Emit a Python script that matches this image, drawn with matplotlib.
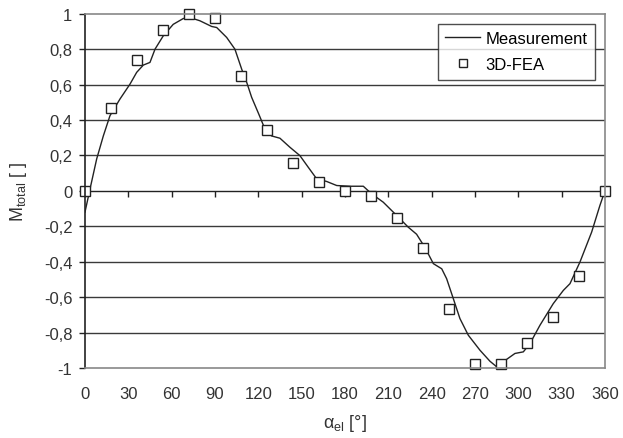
import numpy as np
import matplotlib
matplotlib.use('Agg')
import matplotlib.pyplot as plt
from matplotlib.ticker import FuncFormatter

plt.rcParams['font.family'] = ['Liberation Sans', 'DejaVu Sans']
plt.rcParams['mathtext.fontset'] = 'custom'
plt.rcParams['mathtext.rm'] = 'Liberation Sans'

meas_angle = [0, 3.5, 8.1, 12.7, 17.3, 24.2, 31.2, 35.8, 40.4, 45, 48.5,
              54.2, 61.1, 68.1, 72.7, 79.6, 87.7, 91.2, 98.1, 103.8, 108.5,
              112, 115.4, 120.5, 124.6, 129.2, 135, 141.9, 148.8, 154.6,
              160.4, 167.3, 174.3, 183.5, 192.7, 198.5, 206.5, 215.8, 223.8,
              229.6, 235.4, 241.2, 247, 250.4, 255, 259.6, 265.4, 273.5,
              280.4, 285, 289.6, 297.7, 303.5, 308.1, 315, 324.2, 331.2,
              335.8, 342.7, 350.8, 356.5, 360]
meas_val = [-0.12, 0.011, 0.18, 0.31, 0.424, 0.518, 0.603, 0.669, 0.71,
            0.725, 0.80, 0.875, 0.94, 0.973, 0.978, 0.96, 0.928, 0.922,
            0.866, 0.80, 0.687, 0.612, 0.528, 0.43, 0.349, 0.31, 0.297,
            0.246, 0.199, 0.133, 0.068, 0.053, 0.030, 0.026, 0.026, -0.017,
            -0.064, -0.139, -0.205, -0.245, -0.32, -0.411, -0.44, -0.496,
            -0.608, -0.721, -0.815, -0.90, -0.962, -0.993, -0.965, -0.918,
            -0.909, -0.862, -0.759, -0.637, -0.562, -0.524, -0.402, -0.233,
            -0.083, 0.0]

# 3D-FEA points
fea_angle = [0, 18, 36, 54, 72, 90, 108, 126, 144, 162, 180, 198, 216, 234,
             252, 270, 288, 306, 324, 342, 360]
fea_val = [0.0, 0.47, 0.74, 0.91, 1.0, 0.975, 0.65, 0.345, 0.155, 0.05, 0.0,
           -0.03, -0.155, -0.32, -0.665, -0.975, -0.975, -0.86, -0.715,
           -0.48, 0.0]

xticks = list(range(0, 361, 30))
yticks = [-1, -0.8, -0.6, -0.4, -0.2, 0, 0.2, 0.4, 0.6, 0.8, 1]

fig = plt.figure(figsize=(6.23, 4.39), dpi=100)
ax = fig.add_axes([0.1364, 0.1595, 0.8346, 0.807])

for y in yticks[1:-1]:
    if y != 0:
        ax.axhline(y, color='#3a3a3a', lw=1.0, zorder=0)

# x axis line through y = 0, ticks pointing down
ax.axhline(0, color='#222222', lw=1.0, zorder=1)
ax.plot(xticks, [0] * len(xticks), ls='none', marker=3, ms=4.5, mew=1.0,
        color='#222222', zorder=1, clip_on=False)

ax.plot(meas_angle, meas_val, color='#222222', lw=1.0, label='Measurement')
ax.plot(fea_angle, fea_val, ls='none', marker='s', ms=6.5, mfc='white',
        mec='#222222', mew=1.0, label='3D-FEA', clip_on=False)

ax.set_xlim(0, 360)
ax.set_ylim(-1, 1)
ax.set_xticks(xticks)
ax.set_yticks(yticks)

def fmt(v, pos):
    if abs(v - round(v)) < 1e-9:
        return '%d' % round(v)
    return ('%.1f' % v).replace('.', ',')

ax.yaxis.set_major_formatter(FuncFormatter(fmt))
ax.tick_params(axis='y', direction='out', length=4, width=1, colors='#222222',
               labelsize=12, labelcolor='#333333', pad=5)
ax.tick_params(axis='x', length=0, labelsize=12, labelcolor='#333333', pad=13)

for side in ['top', 'right', 'bottom']:
    ax.spines[side].set_color('#888888')
    ax.spines[side].set_linewidth(1.2)
ax.spines['left'].set_color('#222222')
ax.spines['left'].set_linewidth(1.2)

ax.set_xlabel(u'\u03b1$_{\\mathregular{el}}$ [\u00b0]', fontsize=13,
              color='#333333', labelpad=8)
ax.set_ylabel(r'M$_{\mathregular{total}}$ [ ]', fontsize=13, color='#333333',
              labelpad=11)

leg = ax.legend(loc='upper right', fontsize=12, frameon=True, fancybox=False,
                handlelength=2.1, handletextpad=0.3, markerscale=0.8,
                borderaxespad=0.6, borderpad=0.45, labelspacing=0.65)
leg.get_frame().set_edgecolor('#222222')
leg.get_frame().set_linewidth(1.0)

fig.savefig('out.png', dpi=100)
